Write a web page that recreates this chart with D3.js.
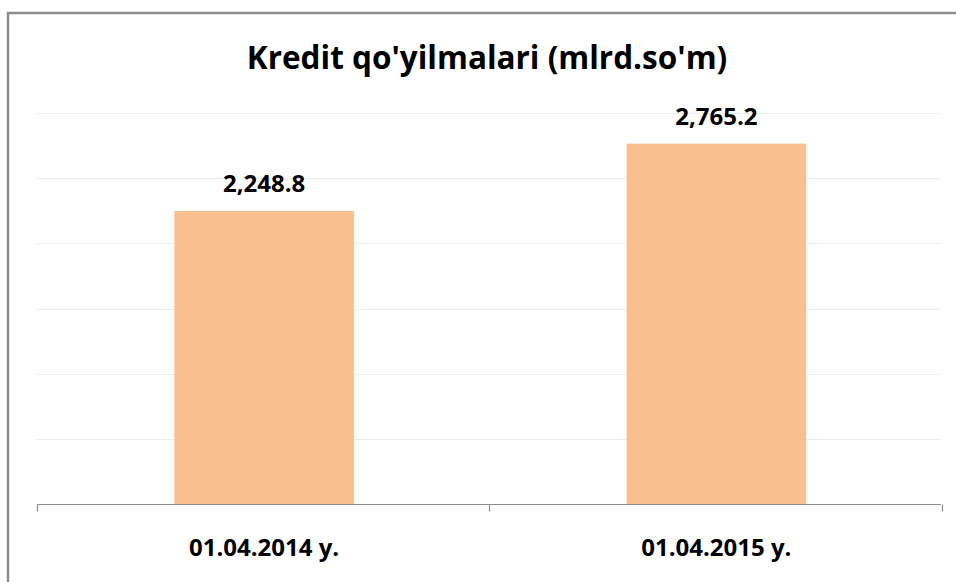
<!DOCTYPE html>
<html>
<head>
<meta charset="utf-8">
<script src="https://cdn.jsdelivr.net/npm/d3@7"></script>
<style>
  html, body { margin: 0; padding: 0; background: #fff; }
  svg { display: block; }
  text { font-family: "Open Sans", Lato, sans-serif; font-weight: bold; fill: #000; }
</style>
</head>
<body>
<div id="g-container"></div>
<script>

	var categories = ["01.04.2014 y.", "01.04.2015 y."];
	var values = [2248.8, 2765.2];
	var yTicks = [0, 500, 1000, 1500, 2000, 2500, 3000];
	var title = "Kredit qo'yilmalari (mlrd.so'm)";

	var width = 956, height = 582;
	var margin = {top: 113, left: 37, right: 15, bottom: 78};

	var svg = d3.select("#g-container").append("svg")
		.attr("width", width)
		.attr("height", height)

	// outer chart frame, runs off the right and bottom of the picture
	svg.append("rect")
		.attr("x", 8).attr("y", 13)
		.attr("width", 960).attr("height", 590)
		.attr("fill", "none")
		.attr("stroke", "#8c8c8c")
		.attr("stroke-width", 2.5)

	var x = d3.scaleBand()
		.domain(categories)
		.range([margin.left, width - margin.right + 0.5])
		.paddingInner(0)
		.paddingOuter(0)

	var y = d3.scaleLinear()
		.domain([0, 3000])
		.range([height - margin.bottom, margin.top])

	// grid lines
	svg.append("g").selectAll("line")
		.data(yTicks.filter(function(d){ return d > 0; }))
		.enter().append("line")
		.attr("x1", margin.left)
		.attr("x2", width - margin.right)
		.attr("y1", function(d){ return Math.round(y(d)) + 0.5; })
		.attr("y2", function(d){ return Math.round(y(d)) + 0.5; })
		.attr("stroke", "#ededed")
		.attr("stroke-width", 1.2)

	var barW = x.bandwidth() * 0.397;

	svg.append("g").selectAll("rect")
		.data(values)
		.enter().append("rect")
		.attr("x", function(d, i){ return x(categories[i]) + x.bandwidth() / 2 - barW / 2 + 1; })
		.attr("y", function(d){ return y(d); })
		.attr("width", barW)
		.attr("height", function(d){ return y(0) - y(d); })
		.attr("fill", "#F9C08F")

	// category axis
	var axis = svg.append("g")
		.attr("transform", "translate(0," + (Math.round(y(0)) + 0.5) + ")")
		.call(d3.axisBottom(x).tickSize(0).tickFormat(""))
	axis.select(".domain").attr("stroke", "#8c8c8c").attr("stroke-width", 1.2)
		.attr("d", "M" + margin.left + ",0H" + (width - margin.right))

	var edges = [margin.left].concat(categories.map(function(c){ return x(c) + x.bandwidth(); }));
	axis.selectAll(".edge").data(edges).enter().append("line")
		.attr("class", "edge")
		.attr("x1", function(d){ return Math.round(d) + 0.5; })
		.attr("x2", function(d){ return Math.round(d) + 0.5; })
		.attr("y1", 0).attr("y2", 7)
		.attr("stroke", "#8c8c8c")
		.attr("stroke-width", 1.2)

	svg.append("g").selectAll("text")
		.data(categories)
		.enter().append("text")
		.attr("x", function(d){ return x(d) + x.bandwidth() / 2 + 1; })
		.attr("y", 555.5)
		.attr("text-anchor", "middle")
		.style("font-size", "24px")
		.text(function(d){ return d; })

	// value labels
	var fmt = d3.format(",.1f");
	svg.append("g").selectAll("text")
		.data(values)
		.enter().append("text")
		.attr("x", function(d, i){ return x(categories[i]) + x.bandwidth() / 2 + 1; })
		.attr("y", function(d){ return y(d) - 19; })
		.attr("text-anchor", "middle")
		.style("font-size", "24px")
		.text(function(d){ return fmt(d); })

	svg.append("text")
		.attr("x", 487)
		.attr("y", 69)
		.attr("text-anchor", "middle")
		.style("font-size", "31.5px")
		.text(title)

</script>
</body>
</html>
